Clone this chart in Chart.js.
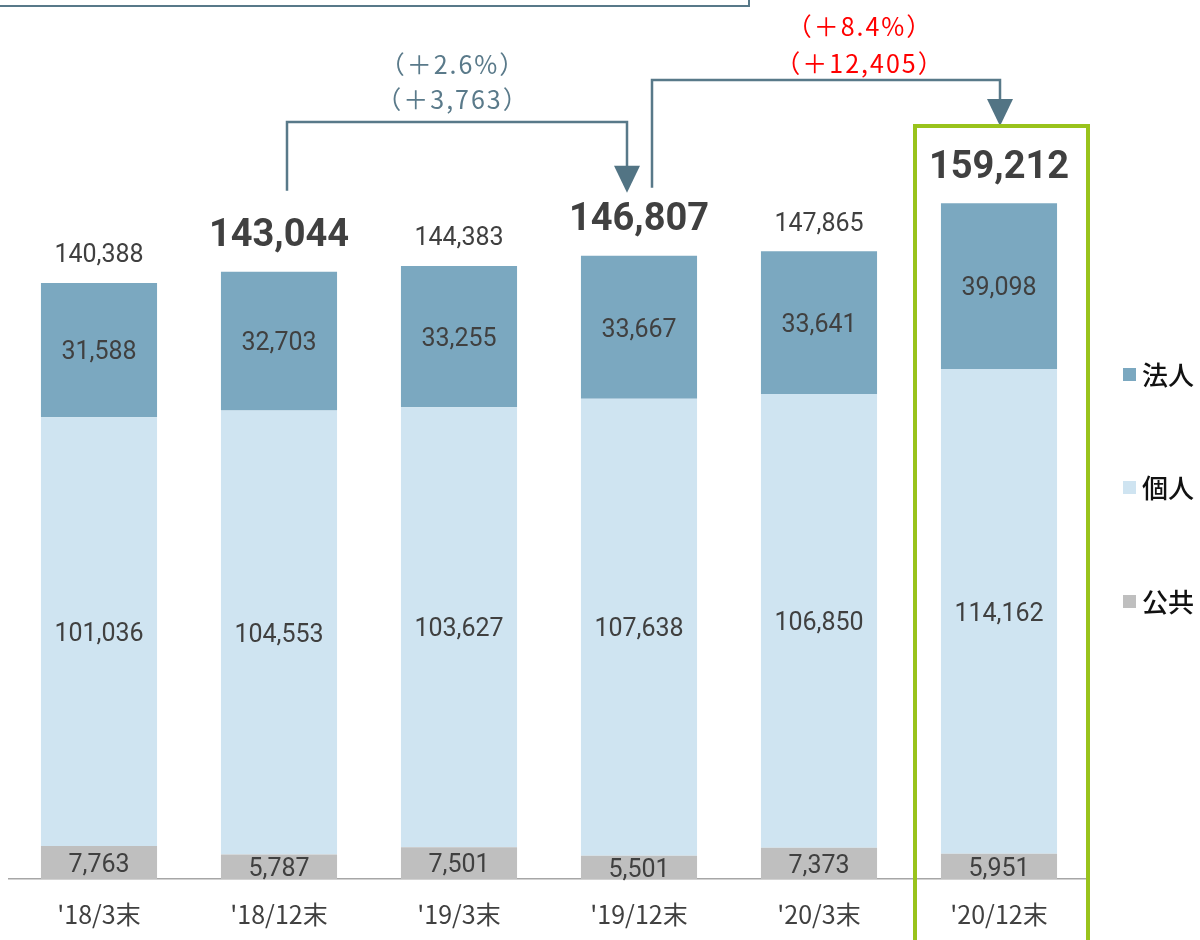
<!DOCTYPE html>
<html lang="ja">
<head>
<meta charset="utf-8">
<script src="https://cdn.jsdelivr.net/npm/chart.js@4"></script>
<style>
  body { margin: 0; background: #fff; }
  canvas { display: block; }
</style>
</head>
<body>
<canvas id="chart" width="1200" height="940"></canvas>
<script>
const categories = ["'18/3末", "'18/12末", "'19/3末", "'19/12末", "'20/3末", "'20/12末"];
const koukyou = [7763, 5787, 7501, 5501, 7373, 5951];
const kojin = [101036, 104553, 103627, 107638, 106850, 114162];
const houjin = [31588, 32703, 33255, 33667, 33641, 39098];
const totals = [140388, 143044, 144383, 146807, 147865, 159212];
const boldTotals = [1, 3, 5];
const seriesNames = ["法人", "個人", "公共"];
const seriesColors = ["#7ba8c0", "#cfe4f1", "#bfbfbf"];

const numFont = "Roboto, 'Noto Sans CJK JP', sans-serif";
const jpFont = "'Noto Sans CJK JP', sans-serif";
const lineColor = "#587989";

function fmt(v) {
    return v.toLocaleString("en-US");
}

// labels, totals, brackets, legend
const overlay = {
    id: "overlay",
    afterDatasetsDraw(chart) {
        const ctx = chart.ctx;
        const xs = chart.scales.x;
        const ys = chart.scales.y;
        ctx.save();

        // values inside segments
        ctx.textAlign = "center";
        ctx.textBaseline = "middle";
        ctx.fillStyle = "#404040";
        ctx.font = "25px " + numFont;
        chart.data.datasets.forEach((ds, di) => {
            const meta = chart.getDatasetMeta(di);
            meta.data.forEach((el, i) => {
                const ymid = (el.y + el.base) / 2 + (di === 0 ? 3 : 3);
                ctx.fillText(fmt(ds.data[i]), el.x, ymid);
            });
        });

        // totals
        totals.forEach((t, i) => {
            const x = xs.getPixelForValue(i);
            const top = ys.getPixelForValue(t);
            if (boldTotals.includes(i)) {
                ctx.font = "bold 38px " + numFont;
                ctx.fillText(fmt(t), x, top - 35);
            } else {
                ctx.font = "25px " + numFont;
                ctx.fillText(fmt(t), x, top - 27);
            }
        });

        // brackets with arrows
        ctx.strokeStyle = lineColor;
        ctx.fillStyle = "#527484";
        ctx.lineWidth = 2.5;
        function bracket(x1, y1, yTop, x2, yTip) {
            ctx.beginPath();
            ctx.moveTo(x1, y1);
            ctx.lineTo(x1, yTop);
            ctx.lineTo(x2, yTop);
            ctx.lineTo(x2, yTip - 20);
            ctx.stroke();
            ctx.beginPath();
            ctx.moveTo(x2 - 13, yTip - 27);
            ctx.lineTo(x2 + 13, yTip - 27);
            ctx.lineTo(x2, yTip);
            ctx.closePath();
            ctx.fill();
        }
        const c1 = xs.getPixelForValue(1);
        const c3 = xs.getPixelForValue(3);
        const c5 = xs.getPixelForValue(5);
        bracket(c1 + 8, ys.getPixelForValue(totals[1]) - 81, 122, c3 - 12, ys.getPixelForValue(totals[3]) - 63);
        bracket(c3 + 13, ys.getPixelForValue(totals[3]) - 68, 80, c5 + 1, 126);

        ctx.font = "25px " + jpFont;
        ctx.letterSpacing = "2px";
        ctx.fillStyle = "#5a7a8a";
        ctx.fillText("（＋2.6%）", (c1 + c3) / 2 - 6, 64);
        ctx.fillText("（＋3,763）", (c1 + c3) / 2 - 6, 99);
        ctx.fillStyle = "#ff0000";
        ctx.fillText("（＋8.4%）", (c3 + c5) / 2 + 41, 26);
        ctx.fillText("（＋12,405）", (c3 + c5) / 2 + 41, 63);
        ctx.letterSpacing = "0px";

        // highlight frame around last bar
        ctx.strokeStyle = "#99c31c";
        ctx.lineWidth = 4;
        ctx.strokeRect(c5 - 84, 126, 173, 830);

        // top box edge
        ctx.strokeStyle = lineColor;
        ctx.lineWidth = 2;
        ctx.beginPath();
        ctx.moveTo(0, 6);
        ctx.lineTo(749, 6);
        ctx.lineTo(749, 0);
        ctx.stroke();

        // legend
        const legendY = [375, 488, 602];
        ctx.textAlign = "left";
        ctx.font = "500 26px " + jpFont;
        seriesNames.forEach((name, i) => {
            ctx.fillStyle = seriesColors[i];
            ctx.fillRect(1123, legendY[i] - 7, 13, 13);
            ctx.fillStyle = "#111";
            ctx.fillText(name, 1142, legendY[i]);
        });

        ctx.restore();
    }
};

new Chart(document.getElementById("chart"), {
    type: "bar",
    data: {
        labels: categories,
        datasets: [
            { label: "公共", data: koukyou, backgroundColor: seriesColors[2] },
            { label: "個人", data: kojin, backgroundColor: seriesColors[1] },
            { label: "法人", data: houjin, backgroundColor: seriesColors[0] }
        ]
    },
    options: {
        responsive: false,
        animation: false,
        layout: { padding: { top: 30, left: 9, right: 111, bottom: 0 } },
        datasets: { bar: { categoryPercentage: 1, barPercentage: 0.645 } },
        plugins: { legend: { display: false }, tooltip: { enabled: false } },
        scales: {
            x: {
                stacked: true,
                grid: { display: false, drawTicks: false },
                border: { display: true, color: "#a6a6a6", width: 1.5 },
                ticks: { color: "#404040", font: { family: jpFont, size: 25 }, padding: 20 },
                afterFit(scale) { scale.height = 61; }
            },
            y: {
                stacked: true,
                display: false,
                min: 0,
                max: 200000
            }
        }
    },
    plugins: [overlay]
});
</script>
</body>
</html>
